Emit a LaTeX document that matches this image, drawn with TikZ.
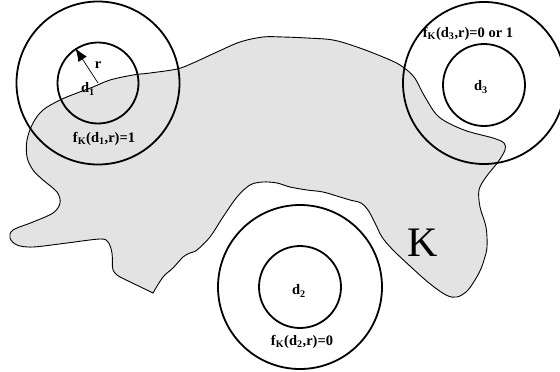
\documentclass[tikz,border=0pt]{standalone}
\usepackage{fontspec}
\setmainfont{Liberation Serif}
\usetikzlibrary{arrows.meta}
\begin{document}
\begin{tikzpicture}[x=1pt,y=-1pt,
  ring/.style={circle, draw, line width=1.8pt, inner sep=0pt, minimum size=#1},
  lab/.style={font=\fontsize{14.5}{16}\selectfont\bfseries, inner sep=0pt},
  blob/.style={draw, line width=0.9pt, fill=black!11}]
\useasboundingbox (0,0) rectangle (560,372);
% region K
\path[blob] (153,293) -- (120,277) -- plot[smooth, tension=0.55] coordinates {
 (120,277) (113,270) (112,253) (108,242) (100,239) (67,243) (33,247) (17,245) (10,238)
 (13,230) (33,222) (53,213) (60,203) (57,192) (43,180) (33,170) (27,157) (27,140)
 (33,123) (43,110) (60,100) (77,93) (93,87) (110,80) (133,75) (150,73) (177,69)
 (193,63) (217,52) (240,42) (263,37) (283,37) (307,38) (333,40) (357,47) (383,57)
 (400,65) (414,77) (425,97) (439,117) (464,130) (493,138) (504,143) (505,150)
 (498,162) (486,177) (479,190) (480,207) (486,227) (487,247) (484,260) (479,273)
 (468,290) (457,297) (446,295) (429,283) (411,267) (393,250) (382,237) (375,223)
 (368,210) (361,203) (350,200) (340,197) (323,192) (307,190) (290,187) (277,183)
 (263,182) (250,185) (237,197) (223,217) (210,237) (197,250) (190,253) (183,257)
 (173,268) (163,277) (153,293)} -- cycle;
% circles
\node[ring=163pt] (c1o) at (98,83) {};
\node[ring=81pt]  (c1i) at (98,83) {};
\node[ring=162pt] (c3o) at (484,83) {};
\node[ring=82pt]  (c3i) at (484,85) {};
\node[ring=164pt] (c2o) at (300,287) {};
\node[ring=82pt]  (c2i) at (300,287) {};
% radius arrow
\draw[line width=0.7pt, -{Latex[length=13pt,width=10pt]}] (c1i.center) -- (c1i.123);
% labels
\node[lab] (r)  at (98,65) {r};
\node[lab] (d1) at (88,89) {d\textsubscript{1}};
\node[lab] (f1) at (104,139) {f\textsubscript{K}(d\textsubscript{1},r)=1};
\node[lab] (d3) at (481,87) {d\textsubscript{3}};
\node[lab] (f3) at (468,34) {f\textsubscript{K}(d\textsubscript{3},r)=0 or 1};
\node[lab] (d2) at (299,291) {d\textsubscript{2}};
\node[lab] (f2) at (302,342) {f\textsubscript{K}(d\textsubscript{2},r)=0};
\node[font=\fontsize{42}{44}\selectfont, inner sep=0pt] (K) at (423,243) {K};
\end{tikzpicture}
\end{document}
